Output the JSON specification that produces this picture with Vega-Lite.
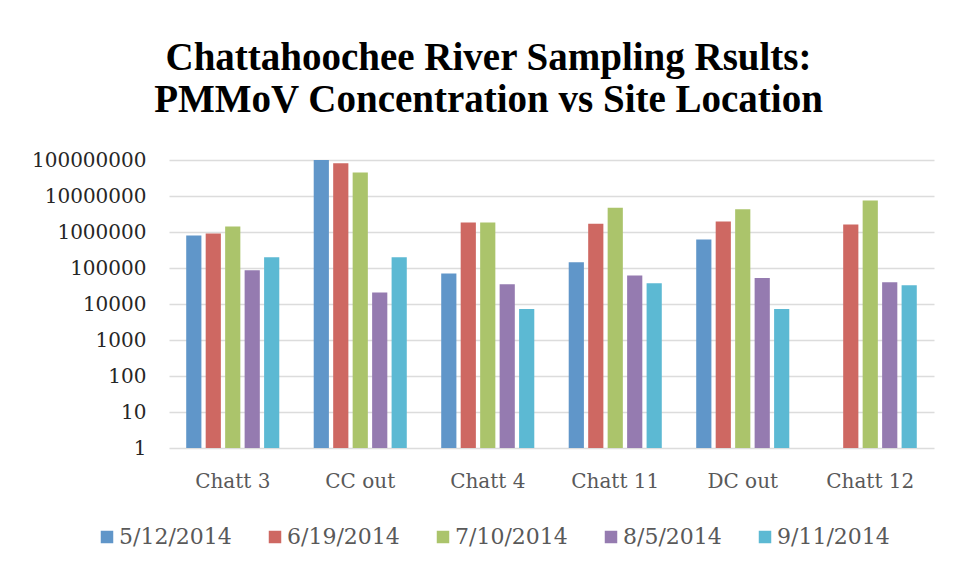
{
  "$schema": "https://vega.github.io/schema/vega-lite/v6.json",
  "autosize": "none",
  "width": 765,
  "height": 288,
  "padding": {"left": 169, "top": 160, "right": 23, "bottom": 129},
  "background": "white",
  "title": {
    "text": ["Chattahoochee River Sampling Rsults:", "PMMoV Concentration vs Site Location"],
    "font": "Liberation Serif",
    "fontWeight": "bold",
    "fontSize": 39,
    "lineHeight": 42,
    "color": "#000000",
    "anchor": "middle",
    "frame": "group",
    "dx": -63,
    "offset": 30
  },
  "data": {
    "values": [
      {"site": "Chatt 3", "date": "5/12/2014", "value": 800000},
      {"site": "Chatt 3", "date": "6/19/2014", "value": 910000},
      {"site": "Chatt 3", "date": "7/10/2014", "value": 1430000},
      {"site": "Chatt 3", "date": "8/5/2014", "value": 86000},
      {"site": "Chatt 3", "date": "9/11/2014", "value": 200000},
      {"site": "CC out", "date": "5/12/2014", "value": 100000000},
      {"site": "CC out", "date": "6/19/2014", "value": 81000000},
      {"site": "CC out", "date": "7/10/2014", "value": 44600000},
      {"site": "CC out", "date": "8/5/2014", "value": 20800},
      {"site": "CC out", "date": "9/11/2014", "value": 200000},
      {"site": "Chatt 4", "date": "5/12/2014", "value": 70000},
      {"site": "Chatt 4", "date": "6/19/2014", "value": 1840000},
      {"site": "Chatt 4", "date": "7/10/2014", "value": 1840000},
      {"site": "Chatt 4", "date": "8/5/2014", "value": 35300},
      {"site": "Chatt 4", "date": "9/11/2014", "value": 7300},
      {"site": "Chatt 11", "date": "5/12/2014", "value": 144000},
      {"site": "Chatt 11", "date": "6/19/2014", "value": 1690000},
      {"site": "Chatt 11", "date": "7/10/2014", "value": 4690000},
      {"site": "Chatt 11", "date": "8/5/2014", "value": 61500},
      {"site": "Chatt 11", "date": "9/11/2014", "value": 37700},
      {"site": "DC out", "date": "5/12/2014", "value": 620000},
      {"site": "DC out", "date": "6/19/2014", "value": 1960000},
      {"site": "DC out", "date": "7/10/2014", "value": 4300000},
      {"site": "DC out", "date": "8/5/2014", "value": 53000},
      {"site": "DC out", "date": "9/11/2014", "value": 7300},
      {"site": "Chatt 12", "date": "6/19/2014", "value": 1620000},
      {"site": "Chatt 12", "date": "7/10/2014", "value": 7460000},
      {"site": "Chatt 12", "date": "8/5/2014", "value": 40000},
      {"site": "Chatt 12", "date": "9/11/2014", "value": 33000}
    ]
  },
  "mark": {"type": "bar"},
  "encoding": {
    "x": {
      "field": "site",
      "type": "nominal",
      "sort": ["Chatt 3", "CC out", "Chatt 4", "Chatt 11", "DC out", "Chatt 12"],
      "scale": {"paddingInner": 0.27, "paddingOuter": 0.135},
      "axis": {
        "title": null,
        "labelAngle": 0,
        "labelFont": "DejaVu Serif",
        "labelFontSize": 20,
        "labelColor": "#595959",
        "labelPadding": 23,
        "ticks": false,
        "domain": false,
        "grid": false
      }
    },
    "xOffset": {
      "field": "date",
      "type": "nominal",
      "sort": ["5/12/2014", "6/19/2014", "7/10/2014", "8/5/2014", "9/11/2014"],
      "scale": {"paddingInner": 0.22, "paddingOuter": 0}
    },
    "y": {
      "field": "value",
      "type": "quantitative",
      "stack": null,
      "scale": {"type": "log", "domain": [1, 100000000], "nice": false},
      "axis": {
        "title": null,
        "values": [1, 10, 100, 1000, 10000, 100000, 1000000, 10000000, 100000000],
        "format": "d",
        "labelFont": "DejaVu Serif",
        "labelFontSize": 20,
        "labelColor": "#262626",
        "labelPadding": 23,
        "ticks": false,
        "domain": false,
        "grid": true,
        "gridColor": "#DCDCDC",
        "gridWidth": 1.5
      }
    },
    "color": {
      "field": "date",
      "type": "nominal",
      "sort": ["5/12/2014", "6/19/2014", "7/10/2014", "8/5/2014", "9/11/2014"],
      "scale": {
        "domain": ["5/12/2014", "6/19/2014", "7/10/2014", "8/5/2014", "9/11/2014"],
        "range": ["#6096C9", "#CE6862", "#ABC46B", "#957BB0", "#5CB9D3"]
      },
      "legend": {
        "title": null,
        "orient": "none",
        "direction": "horizontal",
        "legendX": -73,
        "legendY": 366,
        "symbolType": "square",
        "symbolSize": 156,
        "symbolStrokeWidth": 0,
        "labelFont": "DejaVu Serif",
        "labelFontSize": 22,
        "labelColor": "#595959",
        "labelOffset": 1,
        "columnPadding": 32
      }
    }
  },
  "config": {"view": {"stroke": null}}
}
